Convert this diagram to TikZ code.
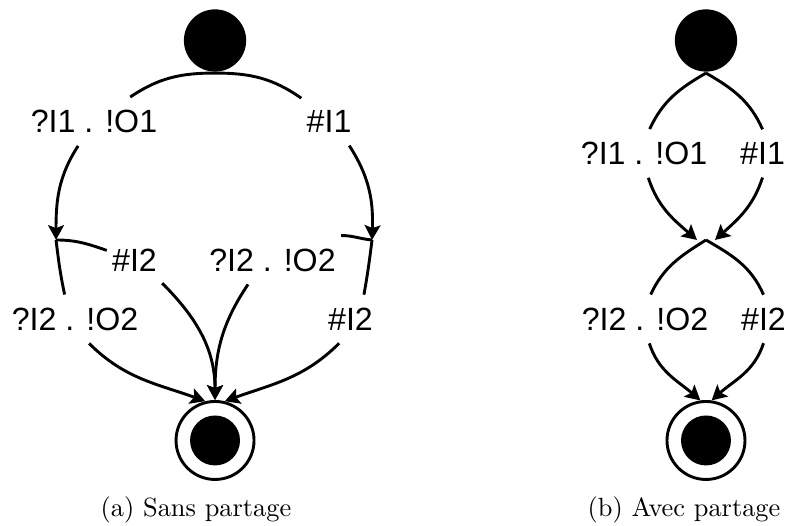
\documentclass[tikz,border=0pt]{standalone}
\usepackage{fontspec}
\newfontfamily\lblsans{Liberation Sans}
\usetikzlibrary{arrows.meta}

\begin{document}
\begin{tikzpicture}[
  >={Stealth[length=5.6pt,width=6pt,inset=1.1pt]},
  line width=1.1pt,
  initst/.style={circle, fill=black, minimum size=8.3mm, inner sep=0pt},
  finalst/.style={circle, draw, minimum size=10.4mm, inner sep=0pt,
    path picture={\fill (path picture bounding box.center) circle (3.33mm);}},
  junct/.style={circle, minimum size=2.4mm, inner sep=0pt, outer sep=0pt},
  lbl/.style={font=\lblsans\fontsize{12.2}{14}\selectfont, inner xsep=1.5pt, inner ysep=4.4pt},
  capt/.style={anchor=base},
]
\useasboundingbox (0,0) rectangle (10.52,7.013);

% Sans partage
\node[initst] (init1) at (2.867,6.473) {};
\node[finalst] (fin1) at (2.867,1.14) {};
\coordinate (j1) at (0.747,3.813);
\coordinate (j2) at (4.96,3.813);

\node[lbl] (lA) at (1.253,5.393) {?I1 . !O1};
\node[lbl] (lB) at (4.387,5.393) {\#I1};
\node[lbl] (lC) at (1.793,3.547) {\#I2};
\node[lbl] (lD) at (3.633,3.547) {?I2 . !O2};
\node[lbl] (lE) at (1.0,2.76) {?I2 . !O2};
\node[lbl] (lF) at (4.673,2.76) {\#I2};

\draw[->] (init1.south) to[out=180,in=34] (lA.34) (lA.-123) to[out=-123,in=90] (j1);
\draw[->] (init1.south) to[out=0,in=145] (lB.140) (lB.-50) to[out=-57,in=88] (j2);
\draw[->] (j1) to[out=0,in=161] (lC.161) (lC.-40) to[out=-45,in=90] (fin1.north);
\draw[->] (j2) to[out=175,in=0] (lD.north east) (lD.-135) to[out=-124,in=90] (fin1.north);
\draw[->] (j1) to[out=-83,in=102] (lE.113) (lE.-60) to[out=-45,in=160] (fin1.104);
\draw[->] (j2) to[out=-97,in=80] (lF.61) (lF.-115) to[out=-135,in=20] (fin1.76);

\node[capt] (capa) at (2.613,0.12) {(a) Sans partage};

% Avec partage
\node[initst] (init2) at (9.413,6.473) {};
\node[finalst] (fin2) at (9.413,1.14) {};
\node[junct] (m) at (9.413,3.813) {};

\node[lbl] (lG) at (8.587,4.967) {?I1 . !O1};
\node[lbl] (lH) at (10.167,4.967) {\#I1};
\node[lbl] (lI) at (8.6,2.76) {?I2 . !O2};
\node[lbl] (lJ) at (10.18,2.76) {\#I2};

\draw[->] (init2.south) to[out=-150,in=65] (lG.77) (lG.-80) to[out=-72,in=139] (m.west);
\draw[->] (init2.south) to[out=-30,in=114] (lH.north) (lH.south) to[out=-108,in=42] (m.east);
\draw[->] (m.center) to[out=-148,in=65] (lI.77) (lI.-80) to[out=-72,in=139] (fin2.98);
\draw[->] (m.center) to[out=-30,in=114] (lJ.north) (lJ.south) to[out=-108,in=42] (fin2.82);

\node[capt] (capb) at (9.12,0.12) {(b) Avec partage};

\end{tikzpicture}
\end{document}
